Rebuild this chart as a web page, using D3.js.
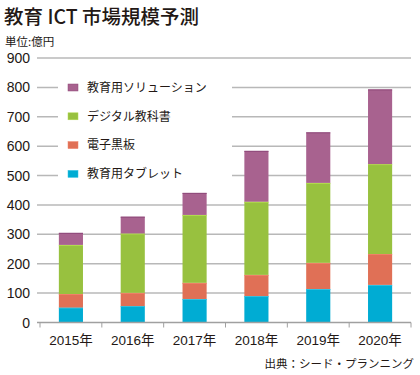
<!DOCTYPE html>
<html><head><meta charset="utf-8">
<script src="https://cdn.jsdelivr.net/npm/d3@7"></script>
<style>
html,body{margin:0;padding:0;background:#fff;}
svg{display:block;}
text{font-family:"Helvetica Neue","Liberation Sans",Arial,"Noto Sans CJK JP",sans-serif;fill:#231815;}
.jp{font-family:"Noto Sans CJK JP",sans-serif;}
</style></head>
<body>
<svg id="chart" width="420" height="375"></svg>
<script>
const categories = ["2015年","2016年","2017年","2018年","2019年","2020年"];
const seriesNames = ["教育用タブレット","電子黒板","デジタル教科書","教育用ソリューション"];
const tablet   = [51, 56, 80, 90, 114, 128];
const board    = [46, 45, 55, 72, 89, 105];
const digital  = [167, 202, 231, 249, 272, 306];
const solution = [41, 57, 75, 173, 172, 254];
const yTicks = [0,100,200,300,400,500,600,700,800,900];
const colors = ["#00acd3","#e07056","#98c13f","#a8628f"];
const edgeColors = ["#33c2e2","#f0826a","#b4dc50","#8f4a7a"];

const svg = d3.select("#chart");

const x = d3.scaleBand().domain(categories).range([40, 411]).paddingInner(0.61).paddingOuter(0.305);
const y = d3.scaleLinear().domain([0, 900]).range([322.5, 58]);

// gridlines
svg.append("g").selectAll("line").data(yTicks.filter(d=>d>0)).join("line")
  .attr("x1", 37).attr("x2", 411)
  .attr("y1", d=>y(d)).attr("y2", d=>y(d))
  .attr("stroke", "#b8b8b8").attr("stroke-width", 1.5);

// y labels
svg.append("g").selectAll("text").data(yTicks).join("text")
  .attr("x", 30).attr("y", d=>y(d)).attr("dy","0.36em")
  .attr("text-anchor","end").attr("font-size", 14)
  .text(d=>d);

// legend background (interrupts gridlines)
svg.append("rect").attr("x", 58).attr("y", 74).attr("width", 174).attr("height", 116).attr("fill","#fff");

// stacked data
const rows = categories.map((c,i)=>({cat:c, s0:tablet[i], s1:board[i], s2:digital[i], s3:solution[i]}));
const stack = d3.stack().keys(["s0","s1","s2","s3"])(rows);

const gBars = svg.append("g");
stack.forEach((layer, li) => {
  gBars.selectAll(null).data(layer).join("rect")
    .attr("x", d=>x(d.data.cat))
    .attr("width", x.bandwidth())
    .attr("y", d=>y(d[1]))
    .attr("height", d=>y(d[0]) - y(d[1]))
    .attr("fill", colors[li]);
  gBars.selectAll(null).data(layer).join("line")
    .attr("x1", d=>x(d.data.cat)).attr("x2", d=>x(d.data.cat)+x.bandwidth())
    .attr("y1", d=>y(d[1])+0.5).attr("y2", d=>y(d[1])+0.5)
    .attr("stroke", edgeColors[li]).attr("stroke-width", 1);
});

// x axis
const gx = svg.append("g").attr("transform", `translate(0,${y(0)})`);
gx.append("line").attr("x1", 37).attr("x2", 411).attr("y1", 0).attr("y2", 0)
  .attr("stroke","#a0a0a0").attr("stroke-width",1.5);
const bounds = [0,1,2,3,4,5,6].map(i => 40 + i * x.step());
gx.selectAll("line.tk").data(bounds).join("line").attr("class","tk")
  .attr("x1", d=>d).attr("x2", d=>d).attr("y1", 0).attr("y2", 5)
  .attr("stroke","#a0a0a0").attr("stroke-width",1);
gx.selectAll("text.lbl").data(categories).join("text").attr("class","lbl")
  .attr("x", d=>x(d)+x.bandwidth()/2).attr("y", 22)
  .attr("text-anchor","middle").attr("font-size", 13.5)
  .text(d=>d);

// legend
const legendOrder = [3,2,1,0];
const lg = svg.append("g");
legendOrder.forEach((si, k) => {
  const cy = 87.5 + k * 28.8;
  lg.append("rect").attr("x", 68).attr("y", cy-3.5).attr("width", 10).attr("height", 7)
    .attr("fill", colors[si]).attr("stroke", edgeColors[si]).attr("stroke-width",0.5);
  lg.append("text").attr("class","jp").attr("x", 87).attr("y", cy).attr("dy","0.36em")
    .attr("font-size", 12).text(seriesNames[si]);
});

// title
svg.append("text").attr("class","jp").attr("x", 4).attr("y", 24).attr("font-size", 19.5)
  .attr("font-weight", 500).text("教育 ICT 市場規模予測");
svg.append("text").attr("class","jp").attr("x", 5).attr("y", 46).attr("font-size", 11.5)
  .text("単位:億円");
// source
svg.append("text").attr("class","jp").attr("x", 414).attr("y", 368).attr("text-anchor","end")
  .attr("font-size", 11.5).text("出典：シード・プランニング");
</script>
</body></html>
